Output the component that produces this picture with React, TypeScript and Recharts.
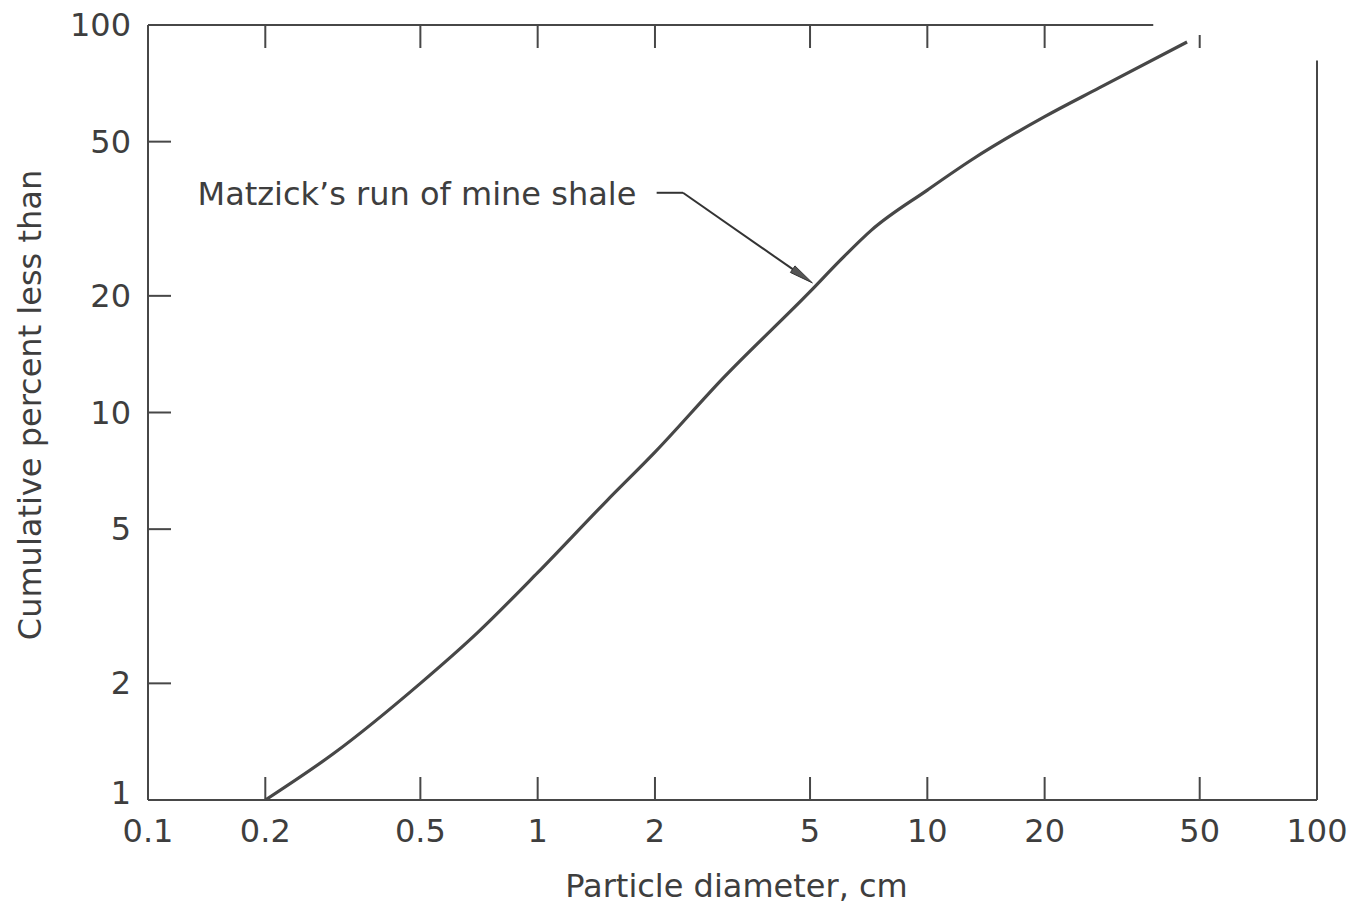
import React from "react";
import {
  LineChart,
  Line,
  XAxis,
  YAxis,
  ReferenceLine,
  ReferenceDot,
  Label,
} from "recharts";

// particle size distribution
const diameters = [0.2, 0.3, 0.5, 0.7, 1, 1.5, 2, 3, 5, 6, 7.2, 10, 13, 20, 27.6, 46.4];
const cumPercent = [1.0, 1.32, 2.0, 2.7, 3.86, 5.9, 7.9, 12.3, 20.5, 24.8, 29.6, 37.5, 44.9, 58, 68.8, 90.4];

const xTickLabels = [0.1, 0.2, 0.5, 1, 2, 5, 10, 20, 50, 100];
const xTickMarks = [0.2, 0.5, 1, 2, 5, 10, 20, 50];
const yTickLabels = [1, 2, 5, 10, 20, 50, 100];
const yTickMarks = [2, 5, 10, 20, 50];

// annotation leader: text anchor, elbow and arrow tip in data units
const noteText = "Matzick\u2019s run of mine shale";
const noteAnchor = { x: 0.134, y: 36.9 };
const leaderStart = { x: 2.02, y: 36.9 };
const leaderElbow = { x: 2.36, y: 36.9 };
const leaderTip = { x: 5.07, y: 21.6 };

// the scanned frame: top edge stops short, right edge starts low
const topEdgeEnd = 38;
const rightEdgeTop = 81;

const data = diameters.map((d, i) => ({ d, p: cumPercent[i] }));

const INK = "#474747";
const TEXT = "#3e3e3e";
const FONT = "DejaVu Sans";
const TICK = 23;
const PLOT_TOP = 25;

const BottomTick = (props: any) => {
  const { x, y, payload } = props;
  const v = payload.value;
  const marked = xTickMarks.includes(v);
  // the top 50 tick is only a broken fragment in the scan
  const topStart = v === 50 ? PLOT_TOP + 10 : PLOT_TOP;
  return (
    <g>
      {marked && <line x1={x} y1={y} x2={x} y2={y - TICK} stroke={INK} strokeWidth={2} />}
      {marked && (
        <line x1={x} y1={topStart} x2={x} y2={PLOT_TOP + TICK} stroke={INK} strokeWidth={2} />
      )}
      <text x={x} y={y + 42} textAnchor="middle" fontFamily={FONT} fontSize={32} fill={TEXT}>
        {String(v)}
      </text>
    </g>
  );
};

const LeftTick = (props: any) => {
  const { x, y, payload } = props;
  const v = payload.value;
  return (
    <g>
      {yTickMarks.includes(v) && (
        <line x1={x} y1={y} x2={x + TICK} y2={y} stroke={INK} strokeWidth={2} />
      )}
      <text
        x={x - 17}
        y={v === 1 ? y - 7 : y}
        textAnchor="end"
        dominantBaseline="central"
        fontFamily={FONT}
        fontSize={32}
        fill={TEXT}
      >
        {String(v)}
      </text>
    </g>
  );
};

const RightTick = (props: any) => {
  const { x, y } = props;
  return <line x1={x} y1={y} x2={x - TICK} y2={y} stroke={INK} strokeWidth={2} />;
};

const Arrow = (props: any) => {
  const { x1, y1, x2, y2 } = props;
  const a = Math.atan2(y2 - y1, x2 - x1);
  const len = 24;
  const w = 4;
  const bx = x2 - len * Math.cos(a);
  const by = y2 - len * Math.sin(a);
  const nx = -Math.sin(a) * w;
  const ny = Math.cos(a) * w;
  return (
    <g>
      <line x1={x1} y1={y1} x2={bx} y2={by} stroke="#333" strokeWidth={2} />
      <polygon
        points={`${x2},${y2} ${bx + nx},${by + ny} ${bx - nx},${by - ny}`}
        fill="#555"
        stroke="#333"
        strokeWidth={1}
      />
    </g>
  );
};

const Note = (props: any) => (
  <text x={props.cx} y={props.cy + 12} fontFamily={FONT} fontSize={32} fill={TEXT}>
    {noteText}
  </text>
);

export default function App() {
  return (
    <div style={{ position: "absolute", left: 0, top: 0, background: "#fff" }}>
      <LineChart
        width={1355}
        height={914}
        data={data}
        margin={{ top: PLOT_TOP, right: 38, bottom: 54, left: 0 }}
      >
        <XAxis
          xAxisId="bottom"
          dataKey="d"
          type="number"
          scale="log"
          domain={[0.1, 100]}
          ticks={xTickLabels}
          interval={0}
          height={60}
          tickSize={0}
          tickMargin={0}
          tickLine={false}
          axisLine={{ stroke: INK, strokeWidth: 2 }}
          tick={<BottomTick />}
          allowDataOverflow
        >
          <Label
            content={(p: any) => {
              const vb = p.viewBox || { x: 148, width: 1169 };
              return (
                <text
                  x={vb.x + vb.width / 2 + 4}
                  y={897}
                  textAnchor="middle"
                  fontFamily={FONT}
                  fontSize={32}
                  fill={TEXT}
                >
                  Particle diameter, cm
                </text>
              );
            }}
          />
        </XAxis>
        <YAxis
          yAxisId="left"
          type="number"
          scale="log"
          domain={[1, 100]}
          ticks={yTickLabels}
          interval={0}
          width={148}
          tickSize={0}
          tickMargin={0}
          tickLine={false}
          axisLine={{ stroke: INK, strokeWidth: 2 }}
          tick={<LeftTick />}
          allowDataOverflow
        >
          <Label
            content={() => (
              <text
                transform="translate(30 405) rotate(-90)"
                textAnchor="middle"
                dominantBaseline="central"
                fontFamily={FONT}
                fontSize={32}
                fill={TEXT}
              >
                Cumulative percent less than
              </text>
            )}
          />
        </YAxis>
        <YAxis
          yAxisId="right"
          orientation="right"
          type="number"
          scale="log"
          domain={[1, 100]}
          ticks={yTickMarks}
          interval={0}
          width={0}
          tickSize={0}
          tickMargin={0}
          tickLine={false}
          axisLine={false}
          tick={<RightTick />}
          allowDataOverflow
        />
        <ReferenceLine
          xAxisId="bottom"
          yAxisId="left"
          segment={[
            { x: 0.1, y: 100 },
            { x: topEdgeEnd, y: 100 },
          ]}
          stroke={INK}
          strokeWidth={2}
        />
        <ReferenceLine
          xAxisId="bottom"
          yAxisId="left"
          segment={[
            { x: 100, y: 1 },
            { x: 100, y: rightEdgeTop },
          ]}
          stroke={INK}
          strokeWidth={2}
        />
        <Line
          xAxisId="bottom"
          yAxisId="left"
          dataKey="p"
          type="monotone"
          stroke={INK}
          strokeWidth={3.2}
          dot={false}
          isAnimationActive={false}
        />
        <ReferenceLine
          xAxisId="bottom"
          yAxisId="left"
          segment={[leaderStart, leaderElbow]}
          stroke="#333"
          strokeWidth={2}
        />
        <ReferenceLine
          xAxisId="bottom"
          yAxisId="left"
          segment={[leaderElbow, leaderTip]}
          shape={<Arrow />}
        />
        <ReferenceDot
          xAxisId="bottom"
          yAxisId="left"
          x={noteAnchor.x}
          y={noteAnchor.y}
          r={1}
          shape={<Note />}
        />
      </LineChart>
    </div>
  );
}
